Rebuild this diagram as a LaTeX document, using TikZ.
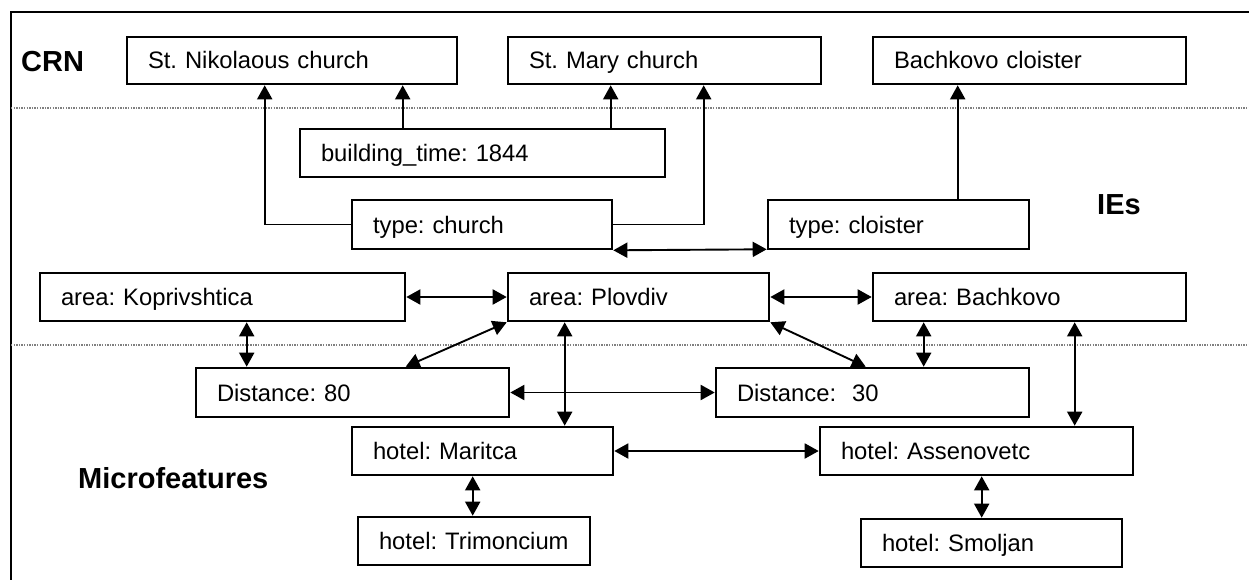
\documentclass[tikz,border=0pt]{standalone}
\usepackage{fontspec}
\setmainfont{Liberation Sans}
\usetikzlibrary{arrows.meta,calc}
\tikzset{
 box/.style={draw, line width=2.6pt, inner xsep=21pt, inner ysep=0pt, align=left,
   text height=17pt, text depth=0pt, font=\fontsize{23.8pt}{28pt}\selectfont\frenchspacing},
 arr/.style={line width=1.9pt, -{Triangle[length=14pt,width=15pt]}},
 darr/.style={line width=1.9pt, {Triangle[length=14pt,width=15pt]}-{Triangle[length=14pt,width=15pt]}},
 lbl/.style={font=\bfseries\fontsize{29pt}{34pt}\selectfont, inner sep=0pt, anchor=base west},
 sepline/.style={gray, line width=1.3pt, dash pattern=on 1.3pt off 1.3pt},
 frameline/.style={line width=2.2pt}
}
\newcommand\mybox[6]{%
 \pgfmathsetmacro\myBW{#4-#2}\pgfmathsetmacro\myBH{#5-#3}\pgfmathsetmacro\myTW{#4-#2-42}%
 \node[box, minimum width=\myBW pt, minimum height=\myBH pt, text width=\myTW pt] (#1) at ({(#2+#4)/2},{(#3+#5)/2}) {\mbox{#6}};}
\begin{document}
\begin{tikzpicture}[x=1pt,y=-1pt]
\useasboundingbox (0,0) rectangle (1249,580);
% frame and separators
\draw[frameline] (1252,12) -- (11,12) -- (11,583);
\draw[sepline] (11,108) -- (1249,108);
\draw[sepline] (11,345) -- (1249,345);
% labels
\node[lbl] (crn) at (21,72) {CRN};
\node[lbl] (ies) at (1097,214) {IEs};
\node[lbl] (micro) at (78,488) {Microfeatures};
% boxes
\mybox{nik}{127}{37}{457}{84}{St. Nikolaous church}
\mybox{mary}{508}{37}{821}{84}{St. Mary church}
\mybox{bcl}{873}{37}{1186}{84}{Bachkovo cloister}
\mybox{bt}{300}{129}{665}{177}{building\_time: 1844}
\mybox{tchurch}{352}{200}{612}{249}{type: church}
\mybox{tcloister}{768}{200}{1029}{249}{type: cloister}
\mybox{kop}{40}{273}{405}{321}{area: Koprivshtica}
\mybox{plov}{508}{273}{769}{321}{area: Plovdiv}
\mybox{bach}{873}{273}{1186}{321}{area: Bachkovo}
\mybox{dei}{196}{368}{509}{417}{Distance: 80}
\mybox{dtr}{716}{368}{1029}{417}{Distance:\ \ 30}
\mybox{mar}{352}{427}{613}{475}{hotel: Maritca}
\mybox{ass}{820}{427}{1133}{475}{hotel: Assenovetc}
\mybox{tri}{358}{517}{590}{565}{hotel: Trimoncium}
\mybox{smo}{861}{519}{1122}{567}{hotel: Smoljan}
% connectors
\draw[arr] ($(bt.north west)+(104,0)$) -- ($(nik.south west)+(277,0)$);
\draw[arr] ($(bt.north west)+(312,0)$) -- ($(mary.south west)+(104,0)$);
\draw[arr] (tchurch.west) -| ($(nik.south west)+(139,0)$);
\draw[arr] (tchurch.east) -| ($(mary.south west)+(197,0)$);
\draw[arr] ($(tcloister.north west)+(191,0)$) -- ($(bcl.south west)+(86,0)$);
\draw[darr] (tchurch.south east) -- ($(tcloister.south west)+(0,-1)$);
\draw[darr] (kop.east) -- (plov.west);
\draw[darr] (plov.east) -- (bach.west);
\draw[darr] ($(kop.south west)+(208,0)$) -- ($(dei.north west)+(52,0)$);
\draw[darr] (plov.south west) -- ($(dei.north west)+(211,0)$);
\draw[darr] (plov.south east) -- ($(dtr.north west)+(151,0)$);
\draw[darr] ($(bach.south west)+(52,0)$) -- ($(dtr.north west)+(209,0)$);
\draw[darr] ($(plov.south west)+(58,0)$) -- ($(mar.north west)+(214,0)$);
\draw[darr] ($(bach.south west)+(203,0)$) -- ($(ass.north west)+(256,0)$);
\draw[darr] (dei.east) -- (dtr.west);
\draw[darr] (mar.east) -- (ass.west);
\draw[darr] ($(mar.south west)+(122,0)$) -- ($(tri.north west)+(116,0)$);
\draw[darr] ($(ass.south west)+(163,0)$) -- ($(smo.north west)+(122,0)$);
\end{tikzpicture}
\end{document}
